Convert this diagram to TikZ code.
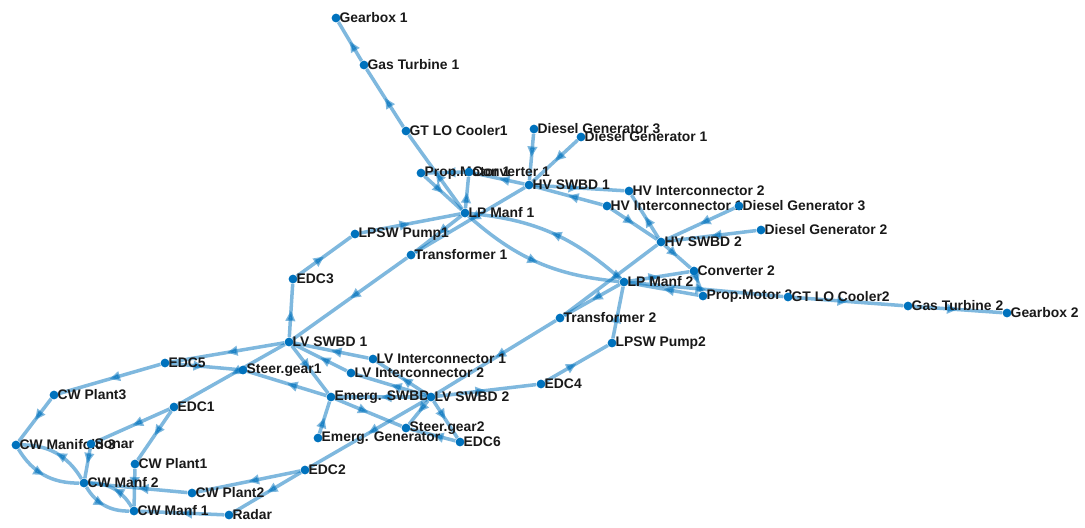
\documentclass[tikz,border=0pt]{standalone}
\usepackage{fontspec}
\setmainfont{Liberation Sans}
\usetikzlibrary{arrows.meta,decorations.markings,backgrounds}

\definecolor{plantblue}{RGB}{0,114,189}

\tikzset{
  dot/.style={circle, fill=plantblue, inner sep=0pt, minimum size=5pt},
  lbl/.style={font=\bfseries\fontsize{7.9}{9}\selectfont, text=black!90, inner sep=0pt},
  flow/.style={line width=2pt, draw=plantblue, opacity=0.5,
    postaction={decorate},
    decoration={markings, mark=at position 0.5 with {\arrow{Triangle[length=6pt,width=5.4pt]}}}},
  label distance=-0.8pt
}

\begin{document}
\begin{tikzpicture}[x=0.2mm, y=-0.2mm]
  \useasboundingbox (0,0) rectangle (1085,527);

  % Propulsion, port side
  \node[dot, label={[lbl]right:Gearbox 1}] (gbx1) at (336,18) {};
  \node[dot, label={[lbl]right:Gas Turbine 1}] (gt1) at (364,65) {};
  \node[dot, label={[lbl]right:GT LO Cooler1}] (gtc1) at (406,131) {};
  \node[dot, label={[lbl]right:Prop.Motor 1}] (pm1) at (421,173) {};
  \node[dot, label={[lbl]right:Converter 1}] (cv1) at (469,172) {};
  \node[dot, label={[lbl]right:LP Manf 1}] (lpm1) at (465,213) {};
  \node[dot, label={[lbl]right:LPSW Pump1}] (pump1) at (355,234) {};
  \node[dot, label={[lbl]right:Transformer 1}] (tr1) at (411,255) {};
  \node[dot, label={[lbl]right:EDC3}] (edc3) at (293,279) {};

  % HV network
  \node[dot, label={[lbl]right:Diesel Generator 3}] (dg3a) at (534,129) {};
  \node[dot, label={[lbl]right:Diesel Generator 1}] (dg1) at (581,137) {};
  \node[dot, label={[lbl]right:HV SWBD 1}] (hv1) at (529,185) {};
  \node[dot, label={[lbl]right:HV Interconnector 2}] (hvi2) at (629,191) {};
  \node[dot, label={[lbl]right:HV Interconnector 1}] (hvi1) at (607,206) {};
  \node[dot, label={[lbl]right:Diesel Generator 3}] (dg3b) at (739,206) {};
  \node[dot, label={[lbl]right:Diesel Generator 2}] (dg2) at (761,230) {};
  \node[dot, label={[lbl]right:HV SWBD 2}] (hv2) at (661,242) {};

  % Propulsion, starboard side
  \node[dot, label={[lbl]right:Converter 2}] (cv2) at (694,271) {};
  \node[dot, label={[lbl]right:LP Manf 2}] (lpm2) at (624,282) {};
  \node[dot, label={[lbl]right:Prop.Motor 2}] (pm2) at (703,296) {};
  \node[dot, label={[lbl]right:GT LO Cooler2}] (gtc2) at (788,297) {};
  \node[dot, label={[lbl]right:Gas Turbine 2}] (gt2) at (908,306) {};
  \node[dot, label={[lbl]right:Gearbox 2}] (gbx2) at (1007,313) {};
  \node[dot, label={[lbl]right:Transformer 2}] (tr2) at (560,318) {};
  \node[dot, label={[lbl]right:LPSW Pump2}] (pump2) at (612,343) {};
  \node[dot, label={[lbl]right:EDC4}] (edc4) at (541,384) {};

  % LV network
  \node[dot, label={[lbl]right:LV SWBD 1}] (lv1) at (289,342) {};
  \node[dot, label={[lbl]right:LV Interconnector 1}] (lvi1) at (373,359) {};
  \node[dot, label={[lbl]right:LV Interconnector 2}] (lvi2) at (351,373) {};
  \node[dot, label={[lbl]right:EDC5}] (edc5) at (165,363) {};
  \node[dot, label={[lbl]right:Steer.gear1}] (sg1) at (243,370) {};
  \node[dot, label={[lbl]right:Emerg. SWBD}] (esb) at (331,397) {};
  \node[dot, label={[lbl]right:LV SWBD 2}] (lv2) at (431,397) {};
  \node[dot, label={[lbl]right:EDC1}] (edc1) at (174,407) {};
  \node[dot, label={[lbl]right:Steer.gear2}] (sg2) at (406,428) {};
  \node[dot, label={[lbl]right:Emerg. Generator}] (egen) at (318,438) {};
  \node[dot, label={[lbl]right:EDC6}] (edc6) at (460,442) {};
  \node[dot, label={[lbl]right:EDC2}] (edc2) at (305,470) {};

  % Chilled water
  \node[dot, label={[lbl]right:CW Plant3}] (cwp3) at (54,395) {};
  \node[dot, label={[lbl]right:CW Manifold 3}] (cwm3) at (16,445) {};
  \node[dot, label={[lbl]right:Sonar}] (sonar) at (91,444) {};
  \node[dot, label={[lbl]right:CW Plant1}] (cwp1) at (135,464) {};
  \node[dot, label={[lbl]right:CW Manf 2}] (cwm2) at (84,483) {};
  \node[dot, label={[lbl]right:CW Plant2}] (cwp2) at (192,493) {};
  \node[dot, label={[lbl]right:CW Manf 1}] (cwm1) at (134,511) {};
  \node[dot, label={[lbl]right:Radar}] (radar) at (229,515) {};

  \begin{scope}[on background layer]
    % shafts and lube oil
    \draw[flow] (gtc1) -- (gt1);
    \draw[flow] (gt1) -- (gbx1);
    \draw[flow] (lpm1) -- (gtc1);
    \draw[flow] (pm1) -- (lpm1);
    \draw[flow] (lpm1) -- (cv1);
    \draw[flow] (cv1) -- (pm1);
    \draw[flow] (lpm2) -- (gtc2);
    \draw[flow] (gtc2) -- (gt2);
    \draw[flow] (gt2) -- (gbx2);
    \draw[flow] (pm2) -- (lpm2);
    \draw[flow] (lpm2) -- (cv2);
    \draw[flow] (cv2) -- (pm2);

    % HV power
    \draw[flow] (dg3a) -- (hv1);
    \draw[flow] (dg1) -- (hv1);
    \draw[flow] (hv1) -- (cv1);
    \draw[flow] (hv1) -- (hvi2);
    \draw[flow] (hvi1) -- (hv1);
    \draw[flow] (hv2) -- (hvi2);
    \draw[flow] (hvi1) -- (hv2);
    \draw[flow] (dg3b) -- (hv2);
    \draw[flow] (dg2) -- (hv2);
    \draw[flow] (hv2) -- (cv2);
    \draw[flow] (hv1) -- (tr1);
    \draw[flow] (hv2) -- (tr2);

    % LP sea water
    \draw[flow] (lpm1) to[bend right=18] (lpm2);
    \draw[flow] (lpm2) to[bend right=18] (lpm1);
    \draw[flow] (lpm1) -- (tr1);
    \draw[flow] (lpm2) -- (tr2);
    \draw[flow] (pump1) -- (lpm1);
    \draw[flow] (edc3) -- (pump1);
    \draw[flow] (pump2) -- (lpm2);
    \draw[flow] (edc4) -- (pump2);

    % LV power
    \draw[flow] (tr1) -- (lv1);
    \draw[flow] (tr2) -- (lv2);
    \draw[flow] (lv1) -- (edc3);
    \draw[flow] (lv2) -- (edc4);
    \draw[flow] (lv1) -- (edc5);
    \draw[flow] (lv1) -- (edc1);
    \draw[flow] (lv1) -- (esb);
    \draw[flow] (lvi1) -- (lv1);
    \draw[flow] (lvi2) -- (lv1);
    \draw[flow] (lv2) -- (lvi1);
    \draw[flow] (lv2) -- (lvi2);
    \draw[flow] (lv2) -- (esb);
    \draw[flow] (lv2) -- (sg2);
    \draw[flow] (lv2) -- (edc6);
    \draw[flow] (lv2) -- (edc2);
    \draw[flow] (edc5) -- (sg1);
    \draw[flow] (edc6) -- (sg2);
    \draw[flow] (esb) -- (sg1);
    \draw[flow] (esb) -- (sg2);
    \draw[flow] (egen) -- (esb);

    % chilled water
    \draw[flow] (edc5) -- (cwp3);
    \draw[flow] (cwp3) -- (cwm3);
    \draw[flow] (edc1) -- (sonar);
    \draw[flow] (edc1) -- (cwp1);
    \draw[flow] (edc2) -- (cwp2);
    \draw[flow] (edc2) -- (radar);
    \draw[flow] (cwp1) -- (cwm1);
    \draw[flow] (cwp2) -- (cwm2);
    \draw[flow] (sonar) -- (cwm2);
    \draw[flow] (radar) -- (cwm1);
    \draw[flow] (cwm3) to[bend right=30] (cwm2);
    \draw[flow] (cwm2) to[bend right=30] (cwm3);
    \draw[flow] (cwm2) to[bend right=30] (cwm1);
    \draw[flow] (cwm1) to[bend right=30] (cwm2);
  \end{scope}
\end{tikzpicture}
\end{document}
